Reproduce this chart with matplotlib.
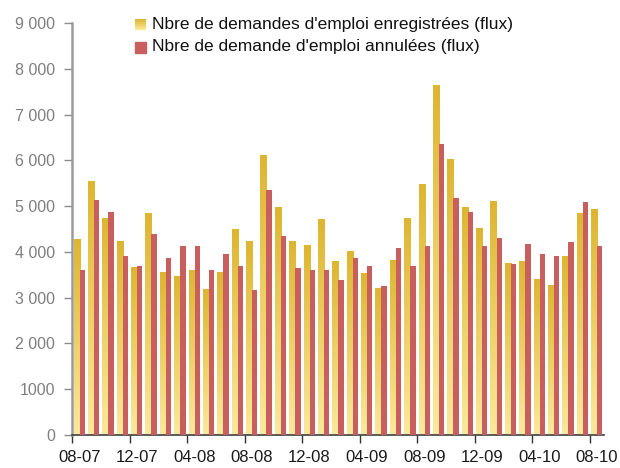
import matplotlib
matplotlib.use("Agg")
import matplotlib.pyplot as plt
from matplotlib.colors import LinearSegmentedColormap
from matplotlib.patches import Rectangle
import numpy as np

plt.rcParams["font.family"] = ["Liberation Sans", "DejaVu Sans"]

# monthly data, 08-2007 .. 08-2010
months = ["08-07", "09-07", "10-07", "11-07", "12-07", "01-08", "02-08", "03-08",
          "04-08", "05-08", "06-08", "07-08", "08-08", "09-08", "10-08", "11-08",
          "12-08", "01-09", "02-09", "03-09", "04-09", "05-09", "06-09", "07-09",
          "08-09", "09-09", "10-09", "11-09", "12-09", "01-10", "02-10", "03-10",
          "04-10", "05-10", "06-10", "07-10", "08-10"]
enregistrees = [4260, 5530, 4740, 4220, 3650, 4830, 3560, 3470, 3600, 3170, 3560, 4480, 4220,
                6100, 4960, 4220, 4130, 4700, 3780, 4000, 3520, 3210, 3820, 4740, 5480,
                7630, 6010, 4960, 4520, 5090, 3740, 3780, 3390, 3260, 3910, 4830, 4920]
annulees = [3600, 5130, 4870, 3910, 3690, 4390, 3870, 4130, 4130, 3600, 3950, 3690, 3170,
            5350, 4350, 3650, 3600, 3600, 3390, 3870, 3690, 3260, 4090, 3690, 4130,
            6360, 5180, 4870, 4130, 4300, 3740, 4170, 3950, 3910, 4220, 5090, 4130]
yticks = [0, 1000, 2000, 3000, 4000, 5000, 6000, 7000, 8000, 9000]
yticklabels = ["0", "1000", "2 000", "3 000", "4 000", "5 000", "6 000", "7 000", "8 000", "9 000"]
legend_labels = ["Nbre de demandes d'emploi enregistrées (flux)",
                 "Nbre de demande d'emploi annulées (flux)"]

red = "#C95E5E"
yellow_grad = LinearSegmentedColormap.from_list("yg", ["#FBE99C", "#DEB530"])
grad = np.linspace(0, 1, 256).reshape(-1, 1)

fig = plt.figure(figsize=(6.2, 4.68), dpi=100)
ax = fig.add_axes([72/620, 33/468, (604-72)/620, (435-23)/468])

x = np.arange(len(months))
w_y = 0.42
w_r = 0.37
x0 = -0.395
for i, v in enumerate(enregistrees):
    ax.imshow(grad, cmap=yellow_grad, origin="lower", aspect="auto",
              extent=[x[i] + x0, x[i] + x0 + w_y, 0, v], zorder=2, interpolation="bilinear")
ax.bar(x + x0 + w_y + w_r/2, annulees, width=w_r, color=red, zorder=3)

ax.set_xlim(-0.5, len(months) - 0.5)
ax.set_ylim(0, 9000)

ax.set_yticks(yticks)
ax.set_yticklabels(yticklabels, color="#7F7F7F", fontsize=11.5)
ax.tick_params(axis="y", length=6, width=1, color="#8C8C8C", pad=6)

ax.set_xticks(np.arange(-0.5, len(months), 4))
ax.set_xticklabels([])
ax.set_xticks(x[::4], minor=True)
ax.set_xticklabels(months[::4], minor=True, fontsize=12, color="#1A1A1A")
ax.tick_params(axis="x", which="major", length=6, width=1, color="#333333")
ax.tick_params(axis="x", which="minor", length=0, pad=11)

for s in ["top", "right"]:
    ax.spines[s].set_visible(False)
ax.spines["left"].set_color("#9A9A9A")
ax.spines["left"].set_linewidth(1.8)
ax.spines["bottom"].set_color("#404040")
ax.spines["bottom"].set_linewidth(1.2)

# legend drawn by hand (gradient swatch)
lax = fig.add_axes([135/620, 1 - 30/468, 11/620, 11/468])
lax.imshow(grad, cmap=yellow_grad, origin="lower", aspect="auto", extent=[0, 1, 0, 1])
lax.set_axis_off()
fig.patches.append(Rectangle((135/620, 1 - 53/468), 11/620, 11/468,
                             transform=fig.transFigure, color=red))
fig.text(152/620, 1 - 24/468, legend_labels[0], fontsize=12.5, va="center", color="#111111")
fig.text(152/620, 1 - 47/468, legend_labels[1], fontsize=12.5, va="center", color="#111111")

fig.savefig("out.png", dpi=100)
